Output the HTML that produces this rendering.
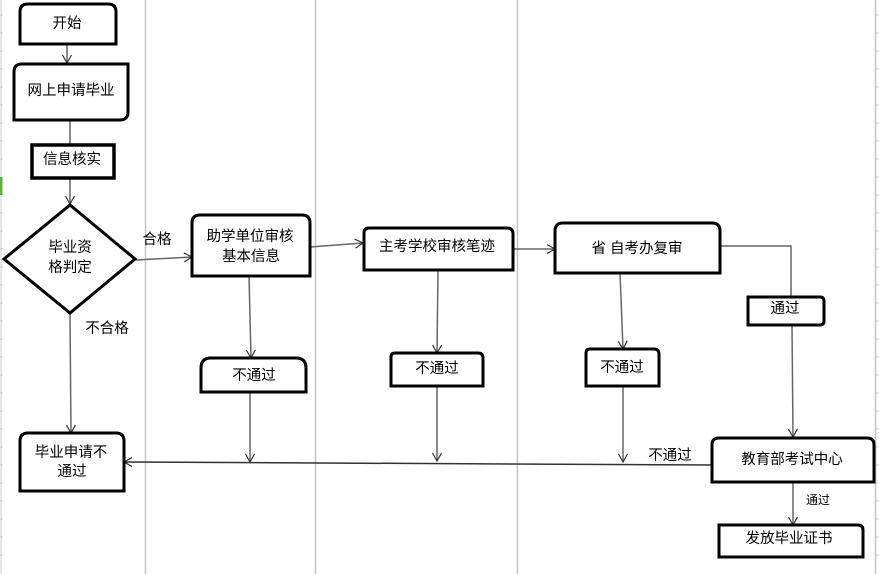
<!DOCTYPE html>
<html><head><meta charset="utf-8">
<style>
html,body{margin:0;padding:0;background:#fff;}
svg{display:block;}
text{font-family:"Liberation Sans","Noto Sans CJK SC",sans-serif;fill:#000;}
</style></head>
<body>
<svg width="879" height="574" viewBox="0 0 879 574" xmlns="http://www.w3.org/2000/svg">
<defs>
<marker id="ar" markerWidth="12" markerHeight="12" refX="9" refY="6" orient="auto" markerUnits="userSpaceOnUse">
<path d="M1,1.5 L9,6 L1,10.5" fill="none" stroke="#333" stroke-width="1.2"/>
</marker>
</defs>
<rect width="879" height="574" fill="#fff"/>
<!-- lane lines -->
<g stroke="#c4c4c4" stroke-width="1.5">
<line x1="145.5" y1="0" x2="145.5" y2="574"/>
<line x1="315.5" y1="0" x2="315.5" y2="574"/>
<line x1="517.5" y1="0" x2="517.5" y2="574"/>
<line x1="875.5" y1="0" x2="875.5" y2="574"/>
<line x1="1" y1="0" x2="1" y2="574" stroke="#d0d0d0" stroke-width="1"/>
</g>
<g stroke="#c8c8c8" stroke-width="1">
<path d="M0,15h3M0,33h3M0,51h3M0,69h3M0,87h3M0,105h3M0,123h3M0,141h3M0,159h3M0,213h3M0,231h3M0,249h3M0,267h3M0,285h3M0,303h3M0,321h3M0,339h3M0,357h3M0,375h3M0,393h3M0,411h3M0,429h3M0,447h3M0,465h3M0,483h3M0,501h3M0,519h3M0,537h3M0,555h3"/>
<path d="M876,15h3M876,33h3M876,51h3M876,69h3M876,87h3M876,105h3M876,123h3M876,141h3M876,159h3M876,177h3M876,195h3M876,213h3M876,231h3M876,249h3M876,267h3M876,285h3M876,303h3M876,321h3M876,339h3M876,357h3M876,375h3M876,393h3M876,411h3M876,429h3M876,447h3M876,465h3M876,483h3M876,501h3M876,519h3M876,537h3M876,555h3"/>
</g>
<rect x="0" y="177" width="2.5" height="18" fill="#5cb040"/>

<!-- connectors -->
<g stroke="#666" stroke-width="1.5" fill="none">
<line x1="67" y1="44" x2="67" y2="63" marker-end="url(#ar)"/>
<line x1="70" y1="120" x2="70" y2="145"/>
<line x1="70" y1="179" x2="70" y2="204" marker-end="url(#ar)"/>
<line x1="136" y1="260" x2="192" y2="257" marker-end="url(#ar)"/>
<line x1="310" y1="247" x2="363" y2="243" marker-end="url(#ar)"/>
<line x1="513" y1="249" x2="555" y2="249" marker-end="url(#ar)"/>
<polyline points="720,246 791,246 791,297"/>
<line x1="792" y1="325" x2="793" y2="437" marker-end="url(#ar)"/>
<line x1="793" y1="482" x2="793" y2="525" marker-end="url(#ar)"/>
<line x1="249" y1="276" x2="251" y2="358" marker-end="url(#ar)"/>
<line x1="250" y1="392" x2="250" y2="462" marker-end="url(#ar)"/>
<line x1="438" y1="270" x2="437" y2="353" marker-end="url(#ar)"/>
<line x1="437" y1="386" x2="437" y2="461" marker-end="url(#ar)"/>
<line x1="620" y1="273" x2="623" y2="349" marker-end="url(#ar)"/>
<line x1="623" y1="386" x2="623" y2="462" marker-end="url(#ar)"/>
<line x1="70" y1="314" x2="71" y2="433" marker-end="url(#ar)"/>
<line x1="712" y1="465" x2="124" y2="462" stroke="#333" marker-end="url(#ar)"/>
</g>

<!-- shapes -->
<g stroke="#000" stroke-width="3" fill="#fff">
<path d="M20,44 V12 Q20,4 28,4 H108 Q116,4 116,12 V44 Z"/>
<path d="M14,120 V72 Q14,64 22,64 H128 V112 Q128,120 120,120 Z"/>
<rect x="32" y="145" width="82" height="33" stroke-width="3.5"/>
<polygon points="70,205 135,259 70,313 4,259"/>
<path d="M192,276 V223 Q192,215 200,215 H302 Q310,215 310,223 V276 Z"/>
<path d="M364,270 V233 Q364,228 369,228 H507 Q513,228 513,234 V270 Z"/>
<path d="M555,273 V231 Q555,223 563,223 H712 Q720,223 720,231 V273 Z"/>
<path d="M201,392 V368 Q201,358 211,358 H296 Q306,358 306,368 V392 Z"/>
<path d="M391,386 V357 Q391,353 395,353 H478 Q483,353 483,358 V386 Z"/>
<path d="M586,386 V353 Q586,349 590,349 H654 Q659,349 659,354 V386 Z"/>
<path d="M748,325 V297 H820 Q824,297 824,301 V321 Q824,325 820,325 Z"/>
<path d="M712,482 V445 Q712,438 719,438 H867 Q874,438 874,445 V482 Z"/>
<path d="M719,557 V525 H858 Q863,525 863,530 V557 Z"/>
<path d="M20,491 V441 Q20,433 28,433 H116 Q124,433 124,441 V491 Z"/>
</g>

<!-- texts -->
<g font-size="14.5" text-anchor="middle" dominant-baseline="central">
<text x="67" y="24">开始</text>
<text x="71" y="91">网上申请毕业</text>
<text x="72" y="160">信息核实</text>
<text x="70" y="248">毕业资</text>
<text x="70" y="268">格判定</text>
<text x="250" y="237">助学单位审核</text>
<text x="251" y="257">基本信息</text>
<text x="437" y="247">主考学校审核笔迹</text>
<text x="637" y="249">省 自考办复审</text>
<text x="254" y="376">不通过</text>
<text x="437" y="369">不通过</text>
<text x="622" y="368">不通过</text>
<text x="785" y="309">通过</text>
<text x="792" y="460">教育部考试中心</text>
<text x="789" y="539">发放毕业证书</text>
<text x="71" y="453">毕业申请不</text>
<text x="72" y="472">通过</text>
<text x="157" y="240">合格</text>
<text x="107" y="329">不合格</text>
<text x="670" y="456">不通过</text>
<text x="818" y="500" font-size="12">通过</text>
</g>
</svg>
</body></html>
